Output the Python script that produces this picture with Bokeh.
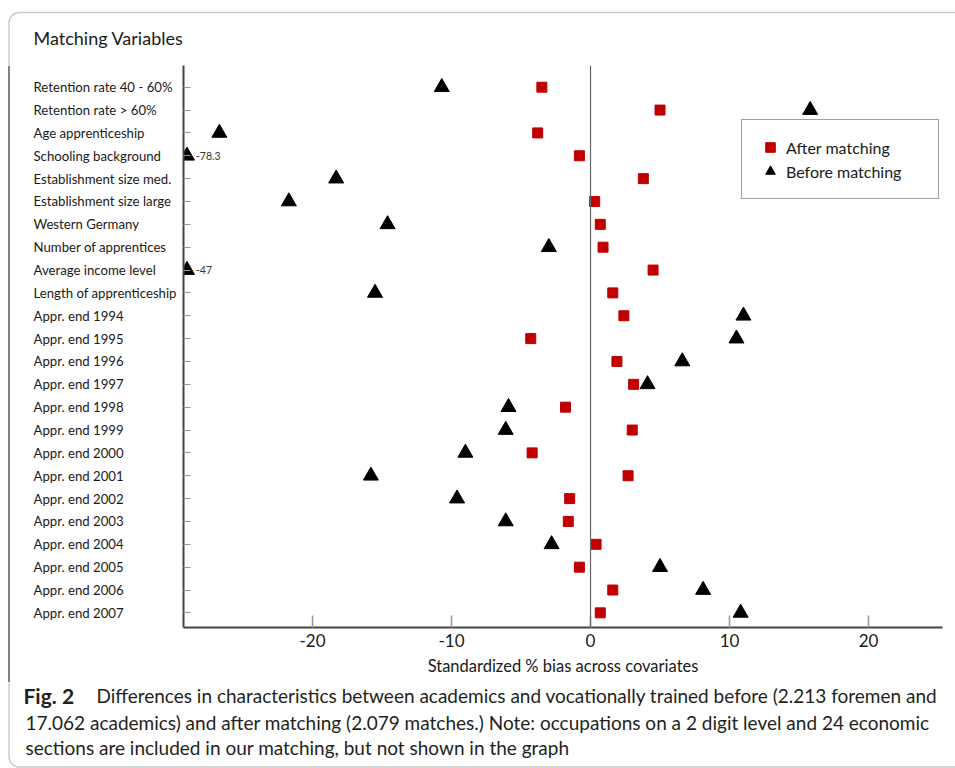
from bokeh.plotting import figure
from bokeh.layouts import column, row
from bokeh.models import (Range1d, FixedTicker, Span, LabelSet, ColumnDataSource,
                          Legend, LegendItem, BoxAnnotation, CustomJSTickFormatter)
from bokeh.core.properties import value
from bokeh.embed import file_html
from bokeh.resources import INLINE

# ---------------- data ----------------
variables = [
    "Retention rate 40 - 60%", "Retention rate > 60%", "Age apprenticeship",
    "Schooling background", "Establishment size med.", "Establishment size large",
    "Western Germany", "Number of apprentices", "Average income level",
    "Length of apprenticeship", "Appr. end 1994", "Appr. end 1995", "Appr. end 1996",
    "Appr. end 1997", "Appr. end 1998", "Appr. end 1999", "Appr. end 2000",
    "Appr. end 2001", "Appr. end 2002", "Appr. end 2003", "Appr. end 2004",
    "Appr. end 2005", "Appr. end 2006", "Appr. end 2007",
]
after_matching = [-3.5, 5.0, -3.8, -0.8, 3.8, 0.3, 0.7, 0.9, 4.5, 1.6, 2.4, -4.3,
                  1.9, 3.1, -1.8, 3.0, -4.2, 2.7, -1.5, -1.6, 0.4, -0.8, 1.6, 0.7]
before_matching = [-10.7, 15.8, -26.7, -78.3, -18.3, -21.7, -14.6, -3.0, -47.0, -15.5,
                   11.0, 10.5, 6.6, 4.1, -5.9, -6.1, -9.0, -15.8, -9.6, -6.1, -2.8,
                   5.0, 8.1, 10.8]
x_ticks = [-20, -10, 0, 10, 20]
x_tick_labels = ["-20", "-10", "0", "10", "20"]
series_names = ["After matching", "Before matching"]
title_text = "Matching Variables"
x_label = "Standardized % bias across covariates"
caption_bold = "Fig. 2"
caption_lines = [
    "Differences in characteristics between academics and vocationally trained before (2.213 foremen and",
    "17.062 academics) and after matching (2.079 matches.) Note: occupations on a 2 digit level and 24 economic",
    "sections are included in our matching, but not shown in the graph",
]

# ---------------- layout constants (pixels) ----------------
PAGE_W, PAGE_H = 955, 768
HEAD_H = 65            # header strip (title)
FRAME_H = 562          # plot frame height
AXIS_H = 55            # x-axis strip under the frame
CAP_TOP = HEAD_H + FRAME_H + AXIS_H
CAP_H = PAGE_H - CAP_TOP
LEFT_W = 180           # strip with the category names
FRAME_LEFT = 183
FRAME_RIGHT = 942

X_START, X_END = -29.28, 25.32
n = len(variables)
ypos = [n - 1 - i for i in range(n)]
Y_START, Y_END = -0.64, n - 1 + 0.95
ppu = FRAME_H / (Y_END - Y_START)

FONT = value("Lato")
TXT = "#1a1a1a"
CAP = "#231f20"
BORDER = "#4d4d4d"
BORDER_W = 1.4
BORDER_X = 8.5


def blank(width, height, xr, yr):
    f = figure(width=width, height=height, x_range=xr, y_range=yr,
               output_backend="svg", toolbar_location=None,
               x_axis_location=None, y_axis_location=None, min_border=0)
    f.outline_line_color = None
    f.grid.visible = False
    f.background_fill_color = "white"
    f.border_fill_color = "white"
    f.frame_align = False
    return f


# ---------------- header (title + rounded frame corner) ----------------
head = blank(PAGE_W, HEAD_H, Range1d(0, PAGE_W), Range1d(HEAD_H, 0))
head.text(x=[33], y=[37], text=[title_text], text_font=FONT, text_font_size="18px",
          text_color=TXT, text_align="left", text_baseline="middle")
head.add_layout(BoxAnnotation(left=BORDER_X, right=4000, top=12, bottom=4000,
                              fill_alpha=0, line_color=BORDER, line_width=BORDER_W,
                              border_radius=10))

# ---------------- shared data source ----------------
before_shown = [max(v, X_START + 0.25) for v in before_matching]
src = ColumnDataSource(dict(name=variables, y=ypos, after=after_matching,
                            before=before_matching, before_shown=before_shown))

# ---------------- left strip with category names ----------------
left = blank(LEFT_W, FRAME_H + AXIS_H, Range1d(0, LEFT_W),
             Range1d(Y_START - AXIS_H / ppu, Y_END))
left.text(x=33, y="y", text="name", source=src, text_font=FONT,
          text_font_size="13.2px", text_color=TXT, text_align="left",
          text_baseline="middle")
left.add_layout(Span(location=BORDER_X, dimension="height", line_color=BORDER,
                     line_width=BORDER_W))

# ---------------- main plot ----------------
p = figure(width=PAGE_W - LEFT_W, height=FRAME_H + AXIS_H, output_backend="svg",
           toolbar_location=None,
           x_range=Range1d(X_START, X_END), y_range=Range1d(Y_START, Y_END),
           min_border_left=FRAME_LEFT - LEFT_W, min_border_right=PAGE_W - FRAME_RIGHT,
           min_border_top=0, min_border_bottom=AXIS_H)
p.frame_align = False
p.outline_line_color = None
p.grid.visible = False
p.background_fill_color = "white"
p.border_fill_color = "white"

xa = p.xaxis[0]
xa.ticker = FixedTicker(ticks=x_ticks)
xa.major_label_overrides = dict(zip(x_ticks, x_tick_labels))
xa.major_tick_in = 12
xa.major_tick_out = 0
xa.minor_tick_line_color = None
xa.major_tick_line_color = "#999999"
xa.major_tick_line_width = 1.5
xa.axis_line_color = "#444444"
xa.axis_line_width = 2
xa.major_label_text_font = "Lato"
xa.major_label_text_font_size = "17px"
xa.major_label_text_color = TXT
xa.major_label_standoff = 6
xa.axis_label = x_label
xa.axis_label_text_font = "Lato"
xa.axis_label_text_font_style = "normal"
xa.axis_label_text_font_size = "16.5px"
xa.axis_label_text_color = TXT
xa.axis_label_standoff = 6

ya = p.yaxis[0]
ya.ticker = FixedTicker(ticks=ypos)
ya.formatter = CustomJSTickFormatter(code="return ''")
ya.major_label_standoff = 0
ya.major_label_text_font_size = "0px"
ya.major_tick_in = 7
ya.major_tick_out = 0
ya.minor_tick_line_color = None
ya.major_tick_line_color = "#999999"
ya.major_tick_line_width = 1.2
ya.axis_line_color = "#444444"
ya.axis_line_width = 2

p.add_layout(Span(location=0, dimension="height", line_color="#666666", line_width=1.2))

r_before = p.scatter("before_shown", "y", source=src, marker="triangle", size=15,
                     fill_color="black", line_color="black")
r_after = p.scatter("after", "y", source=src, marker="square", size=10,
                    fill_color="#c00000", line_color="#c00000")

out_idx = [i for i, v in enumerate(before_matching) if v < X_START]
out_src = ColumnDataSource(dict(
    x=[before_shown[i] for i in out_idx],
    y=[ypos[i] for i in out_idx],
    text=[f"{before_matching[i]:g}" for i in out_idx]))
p.add_layout(LabelSet(x="x", y="y", text="text", source=out_src, x_offset=9,
                      text_baseline="middle", text_align="left", text_font=FONT,
                      text_font_size="10.5px", text_color="#333333"))

legend = Legend(items=[LegendItem(label=series_names[0], renderers=[r_after]),
                       LegendItem(label=series_names[1], renderers=[r_before])],
                location=(741 - FRAME_LEFT, FRAME_H - (199 - HEAD_H)),
                glyph_width=26, glyph_height=24, label_height=20, label_width=137,
                spacing=0, padding=15, margin=0, label_standoff=3,
                label_text_font="Lato", label_text_font_size="16px",
                label_text_color=TXT, border_line_color="#404040",
                border_line_width=1.5, background_fill_color="white",
                background_fill_alpha=1)
p.add_layout(legend)

# ---------------- caption ----------------
cap = blank(PAGE_W, CAP_H, Range1d(0, PAGE_W), Range1d(PAGE_H, CAP_TOP))
cap.text(x=[23], y=[695], text=[caption_bold], text_font=FONT, text_font_style="bold",
         text_font_size="21px", text_color=CAP, text_align="left",
         text_baseline="middle")
cap.text(x=[96, 25, 25], y=[695, 721.5, 746.5], text=caption_lines, text_font=FONT,
         text_font_size="19px", text_color=CAP, text_align="left",
         text_baseline="middle")
cap.add_layout(BoxAnnotation(left=BORDER_X, right=4000, top=0, bottom=PAGE_H - 1.5,
                             fill_alpha=0, line_color=BORDER, line_width=BORDER_W,
                             border_radius=10))

layout = column(head, row(left, p), cap)
open("out.html", "w").write(file_html(layout, INLINE))
